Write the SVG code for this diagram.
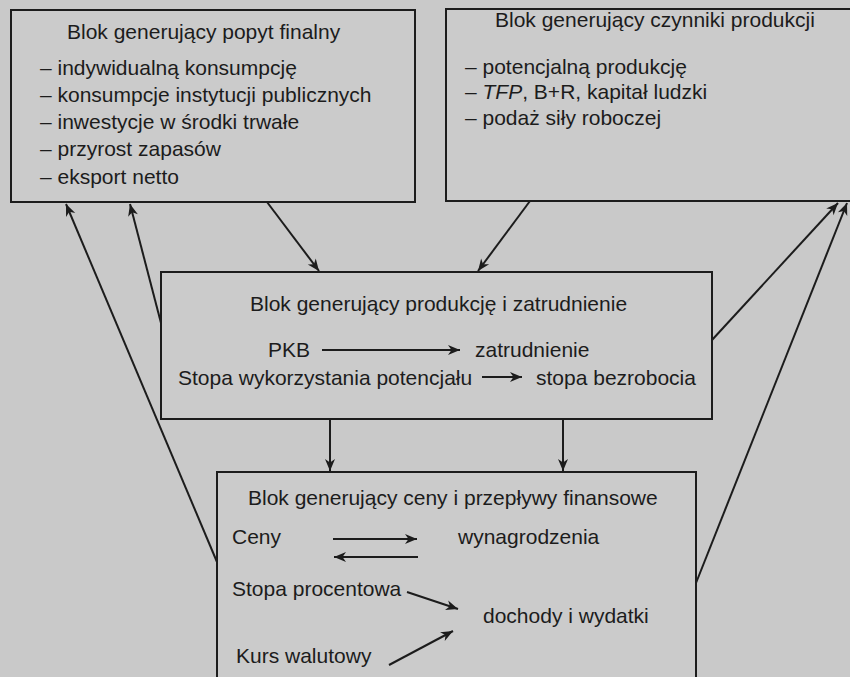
<svg xmlns="http://www.w3.org/2000/svg" width="850" height="677" viewBox="0 0 850 677">
<defs>
<style>
.bg{fill:#c9c9c9}
.box{fill:#cbcbcb;stroke:#1c1c1c;stroke-width:2}
.t{font-family:"Liberation Sans",Arial,sans-serif;font-size:21px;fill:#1c1c1c}
.c{fill:none;stroke:#1c1c1c;stroke-width:2}
</style>
<marker id="ah" viewBox="-13 -6 14 12" refX="0" refY="0" markerWidth="14" markerHeight="12" markerUnits="userSpaceOnUse" orient="auto">
<path d="M0,0 L-12,-5 L-8.5,0 L-12,5 Z" fill="#1c1c1c"/>
</marker>
</defs>
<rect class="bg" x="0" y="0" width="850" height="677"/>

<g id="popyt">
<rect class="box" x="11" y="10" width="404" height="192"/>
<text class="t" x="67" y="39">Blok generujący popyt finalny</text>
<text class="t" x="40" y="75">– indywidualną konsumpcję</text>
<text class="t" x="40" y="102">– konsumpcje instytucji publicznych</text>
<text class="t" x="40" y="129">– inwestycje w środki trwałe</text>
<text class="t" x="40" y="156">– przyrost zapasów</text>
<text class="t" x="40" y="184">– eksport netto</text>
</g>

<g id="czynniki">
<rect class="box" x="446" y="9" width="410" height="192"/>
<text class="t" x="495" y="27">Blok generujący czynniki produkcji</text>
<text class="t" x="465" y="74">– potencjalną produkcję</text>
<text class="t" x="465" y="99">– <tspan font-style="italic">TFP</tspan>, B+R, kapitał ludzki</text>
<text class="t" x="465" y="125">– podaż siły roboczej</text>
</g>

<g id="produkcja">
<rect class="box" x="161" y="272" width="551" height="147"/>
<text class="t" x="250" y="311">Blok generujący produkcję i zatrudnienie</text>
<text class="t" x="268" y="357">PKB</text>
<text class="t" x="475" y="357">zatrudnienie</text>
<text class="t" x="178" y="385">Stopa wykorzystania potencjału</text>
<text class="t" x="536" y="385">stopa bezrobocia</text>
</g>

<g id="ceny">
<rect class="box" x="217" y="472" width="479" height="230"/>
<text class="t" x="248" y="505">Blok generujący ceny i przepływy finansowe</text>
<text class="t" x="232" y="544">Ceny</text>
<text class="t" x="458" y="544">wynagrodzenia</text>
<text class="t" x="232" y="596">Stopa procentowa</text>
<text class="t" x="483" y="623">dochody i wydatki</text>
<text class="t" x="236" y="663">Kurs walutowy</text>
</g>

<g id="connectors">
<line class="c" x1="267" y1="202" x2="319" y2="271" marker-end="url(#ah)"/>
<line class="c" x1="530" y1="201" x2="478" y2="271" marker-end="url(#ah)"/>
<line class="c" x1="330" y1="419" x2="330" y2="471" marker-end="url(#ah)"/>
<line class="c" x1="563" y1="419" x2="563" y2="471" marker-end="url(#ah)"/>
<line class="c" x1="161" y1="323" x2="130" y2="204" marker-end="url(#ah)"/>
<line class="c" x1="217" y1="562" x2="66" y2="204" marker-end="url(#ah)"/>
<line class="c" x1="712" y1="340" x2="838" y2="203" marker-end="url(#ah)"/>
<line class="c" x1="696" y1="583" x2="847" y2="203" marker-end="url(#ah)"/>
<line class="c" x1="322" y1="350" x2="460" y2="350" marker-end="url(#ah)"/>
<line class="c" x1="482" y1="377" x2="522" y2="377" marker-end="url(#ah)"/>
<line class="c" x1="333" y1="539" x2="417" y2="539" marker-end="url(#ah)"/>
<line class="c" x1="418" y1="557" x2="334" y2="557" marker-end="url(#ah)"/>
<line class="c" x1="407" y1="592" x2="458" y2="609" marker-end="url(#ah)"/>
<line class="c" x1="389" y1="665" x2="453" y2="631" marker-end="url(#ah)"/>
</g>
</svg>
